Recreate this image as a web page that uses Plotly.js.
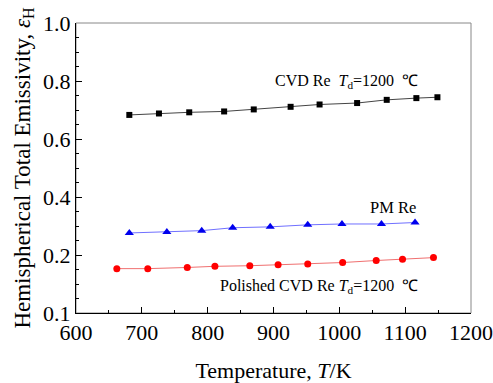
<!DOCTYPE html>
<html><head><meta charset="utf-8">
<script src="https://cdn.plot.ly/plotly-3.0.1.min.js"></script>
<style>body{margin:0;background:#fff}#c{width:493px;height:383px}</style>
</head><body><div id="c"></div>
<script>
// CVD Re, Td=1200 C
const cvdT = [681, 726, 772, 825, 870, 926, 970, 1027, 1072, 1117, 1149];
const cvdE = [0.683, 0.688, 0.692, 0.695, 0.702, 0.711, 0.719, 0.724, 0.735, 0.741, 0.744];
// PM Re
const pmT = [681, 738, 791, 838, 895, 952, 1004, 1064, 1115];
const pmE = [0.276, 0.279, 0.284, 0.294, 0.297, 0.304, 0.307, 0.307, 0.312];
// Polished CVD Re, Td=1200 C
const polT = [662, 709, 769, 811, 864, 907, 952, 1005, 1056, 1096, 1143];
const polE = [0.153, 0.153, 0.157, 0.161, 0.163, 0.166, 0.169, 0.174, 0.181, 0.185, 0.191];
// axis ticks
const yTickVals = [0, 0.2, 0.4, 0.6, 0.8, 1.0];
const yTickText = ['0.1', '0.2', '0.4', '0.6', '0.8', '1.0'];
const xTickVals = [600, 700, 800, 900, 1000, 1100, 1200];

const F = 'Liberation Serif';
const traces = [
  {x: cvdT, y: cvdE, mode: 'lines+markers', line: {color: '#444', width: 1},
   marker: {symbol: 'square', size: 6, color: '#000'}},
  {x: pmT, y: pmE, mode: 'lines+markers', line: {color: '#7070ff', width: 1},
   marker: {symbol: 'triangle-up', size: 8, color: '#0000ee'}},
  {x: polT, y: polE, mode: 'lines+markers', line: {color: '#f07070', width: 1},
   marker: {symbol: 'circle', size: 7, color: '#ff0000'}}
];
const layout = {
  width: 493, height: 383,
  margin: {l: 76, r: 22, t: 23, b: 70},
  showlegend: false,
  paper_bgcolor: '#fff', plot_bgcolor: '#fff',
  font: {family: F, color: '#000', size: 22},
  xaxis: {
    range: [600, 1200], tickmode: 'array', tickvals: xTickVals,
    ticks: 'inside', ticklen: 6, tickcolor: '#000', showline: true, linecolor: '#000', linewidth: 1,
    showgrid: false, zeroline: false,
    minor: {tickmode: 'linear', tick0: 600, dtick: 50, ticks: 'inside', ticklen: 3, tickcolor: '#000'},
    tickfont: {family: F, size: 22},
    title: {text: 'Temperature, <i>T</i>/K', font: {family: F, size: 22}, standoff: 24}
  },
  yaxis: {
    range: [0, 1.0], tickmode: 'array', tickvals: yTickVals, ticktext: yTickText,
    ticks: 'inside', ticklen: 6, tickcolor: '#000', showline: true, linecolor: '#000', linewidth: 1,
    showgrid: false, zeroline: false,
    minor: {tickmode: 'linear', tick0: 0, dtick: 0.05, ticks: 'inside', ticklen: 3, tickcolor: '#000'},
    tickfont: {family: F, size: 22},
    title: {text: 'Hemispherical Total Emissivity, <i>ε</i><sub>H</sub>', font: {family: F, size: 23}, standoff: 6}
  },
  shapes: [{type: 'rect', xref: 'paper', yref: 'paper', x0: 0, x1: 1, y0: 0, y1: 1,
            line: {color: '#888', width: 1}, layer: 'below'}],
  annotations: [
    {x: 899, y: 0.797, text: 'CVD Re  <i>T</i><sub>d</sub>=1200  ℃', showarrow: false,
     xanchor: 'left', font: {family: F, size: 16}},
    {x: 1120, y: 0.365, text: 'PM Re', showarrow: false, xanchor: 'right', font: {family: F, size: 16.5}},
    {x: 816, y: 0.092, text: 'Polished CVD Re <i>T</i><sub>d</sub>=1200  ℃', showarrow: false, xanchor: 'left', font: {family: F, size: 16}}
  ]
};
Plotly.newPlot('c', traces, layout, {staticPlot: true});
</script></body></html>
